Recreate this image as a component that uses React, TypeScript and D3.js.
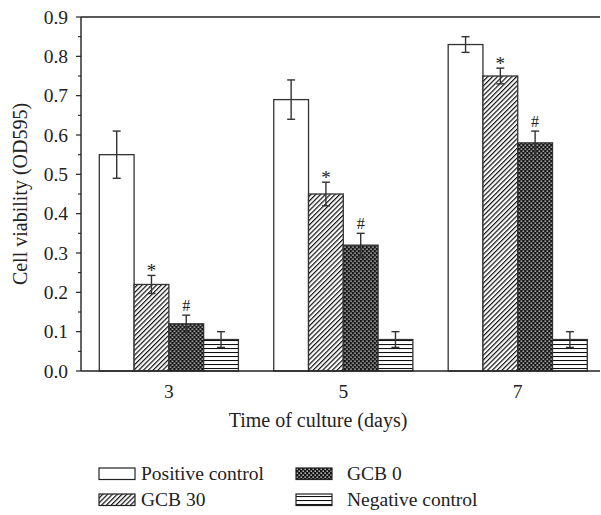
import React from "react";
import * as d3 from "d3";

// Culture days on the x axis
const days = ["3", "5", "7"];

// Series names, in drawing order inside each group
const seriesNames = ["Positive control", "GCB 30", "GCB 0", "Negative control"];

// Mean cell viability (OD595) per series, one value per day
const positiveControl = [0.55, 0.69, 0.83];
const gcb30 = [0.22, 0.45, 0.75];
const gcb0 = [0.12, 0.32, 0.58];
const negativeControl = [0.08, 0.08, 0.08];

// Error (± SD) per series
const positiveErr = [0.06, 0.05, 0.02];
const gcb30Err = [0.023, 0.03, 0.02];
const gcb0Err = [0.022, 0.03, 0.03];
const negativeErr = [0.02, 0.02, 0.02];

// Significance markers drawn above the bars
const markers = ["", "*", "#", ""];

const yTicks = [0, 0.1, 0.2, 0.3, 0.4, 0.5, 0.6, 0.7, 0.8, 0.9];

const W = 601;
const H = 515;
const FONT = "'Liberation Serif', 'Times New Roman', serif";
const FS = 19.5;

export default function App() {
  const values = [positiveControl, gcb30, gcb0, negativeControl];
  const errors = [positiveErr, gcb30Err, gcb0Err, negativeErr];
  const fills = ["#ffffff", "url(#hatch)", "url(#dots)", "url(#hlines)"];

  const left = 81;
  const top = 17;
  const bottom = 371;
  const axisRight = 600;

  const y = d3.scaleLinear().domain([0, 0.9]).range([bottom, top]);
  const x0 = d3
    .scaleBand<string>()
    .domain(days)
    .range([left, 605.6])
    .paddingInner(0.2025)
    .paddingOuter(0.105);
  const x1 = d3
    .scaleBand<string>()
    .domain(seriesNames)
    .range([0, x0.bandwidth()]);

  const minorTicks = d3.range(0.05, 0.9, 0.1);

  const legendItems = [
    { name: seriesNames[0], fill: fills[0], sx: 99, tx: 141, sy: 468 },
    { name: seriesNames[2], fill: fills[2], sx: 296, tx: 347, sy: 468 },
    { name: seriesNames[1], fill: fills[1], sx: 99, tx: 141, sy: 494 },
    { name: seriesNames[3], fill: fills[3], sx: 296, tx: 347, sy: 494 },
  ];

  return (
    <svg
      width={W}
      height={H}
      style={{ position: "absolute", left: 0, top: 0, background: "#fff" }}
      fontFamily={FONT}
    >
      <defs>
        <pattern
          id="hatch"
          patternUnits="userSpaceOnUse"
          width={3.4}
          height={3.4}
          patternTransform="rotate(45)"
        >
          <rect width={3.4} height={3.4} fill="#fff" />
          <line x1={0.6} y1={0} x2={0.6} y2={3.4} stroke="#111" strokeWidth={1.2} />
        </pattern>
        <pattern id="dots" patternUnits="userSpaceOnUse" width={4} height={4}>
          <rect width={4} height={4} fill="#151515" />
          <rect x={0.5} y={0.5} width={1.3} height={1.3} fill="#fff" />
          <rect x={2.5} y={2.5} width={1.3} height={1.3} fill="#fff" />
        </pattern>
        <pattern id="hlines" patternUnits="userSpaceOnUse" width={4} height={4}>
          <rect width={4} height={4} fill="#fff" />
          <line x1={0} y1={0.5} x2={4} y2={0.5} stroke="#111" strokeWidth={1.1} />
        </pattern>
      </defs>

      {/* Bars, error bars and markers */}
      {days.map((d, di) => (
        <g key={d} transform={`translate(${x0(d)},0)`}>
          {seriesNames.map((s, si) => {
            const v = values[si][di];
            const e = errors[si][di];
            const bx = x1(s)!;
            const bw = x1.bandwidth();
            const cx = bx + bw / 2;
            const capHalf = 4;
            return (
              <g key={s}>
                <rect
                  x={bx}
                  y={y(v)}
                  width={bw}
                  height={bottom - y(v)}
                  fill={fills[si]}
                  stroke="#333"
                  strokeWidth={1.3}
                />
                <line x1={cx} x2={cx} y1={y(v + e)} y2={y(v - e)} stroke="#333" strokeWidth={1.4} />
                <line x1={cx - capHalf} x2={cx + capHalf} y1={y(v + e)} y2={y(v + e)} stroke="#333" strokeWidth={1.4} />
                <line x1={cx - capHalf} x2={cx + capHalf} y1={y(v - e)} y2={y(v - e)} stroke="#333" strokeWidth={1.4} />
                {markers[si] && (
                  <text
                    x={cx}
                    y={y(v + e) - (markers[si] === "*" ? -2 : 4)}
                    textAnchor="middle"
                    fontSize={markers[si] === "*" ? 19 : 16}
                    fill="#222"
                  >
                    {markers[si]}
                  </text>
                )}
              </g>
            );
          })}
        </g>
      ))}

      {/* Frame: left axis, top and bottom lines */}
      <line x1={left} x2={axisRight} y1={top} y2={top} stroke="#222" strokeWidth={1.4} />
      <line x1={left} x2={axisRight} y1={bottom} y2={bottom} stroke="#222" strokeWidth={1.4} />
      <line x1={left} x2={left} y1={top} y2={bottom} stroke="#222" strokeWidth={1.4} />

      {/* Y ticks */}
      {yTicks.map((t) => (
        <g key={t}>
          <line x1={left - 5} x2={left} y1={y(t)} y2={y(t)} stroke="#222" strokeWidth={1.2} />
          <text x={left - 13} y={y(t) + 6.5} textAnchor="end" fontSize={FS} fill="#222">
            {d3.format(".1f")(t)}
          </text>
        </g>
      ))}
      {minorTicks.map((t) => (
        <line key={t} x1={left - 3} x2={left} y1={y(t)} y2={y(t)} stroke="#222" strokeWidth={1.1} />
      ))}

      {/* X tick labels */}
      {days.map((d) => (
        <text
          key={d}
          x={x0(d)! + x0.bandwidth() / 2}
          y={398}
          textAnchor="middle"
          fontSize={FS}
          fill="#222"
        >
          {d}
        </text>
      ))}

      {/* Axis titles */}
      <text x={318} y={427} textAnchor="middle" fontSize={FS + 0.5} fill="#222">
        Time of culture (days)
      </text>
      <text
        transform={`translate(27,${(top + bottom) / 2}) rotate(-90)`}
        textAnchor="middle"
        fontSize={FS + 0.5}
        fill="#222"
      >
        Cell viability (OD595)
      </text>

      {/* Legend */}
      {legendItems.map((it) => (
        <g key={it.name}>
          <rect x={it.sx} y={it.sy} width={36} height={11.5} fill={it.fill} stroke="#222" strokeWidth={1.2} />
          <text x={it.tx} y={it.sy + 12} fontSize={FS} fill="#222">
            {it.name}
          </text>
        </g>
      ))}
    </svg>
  );
}
